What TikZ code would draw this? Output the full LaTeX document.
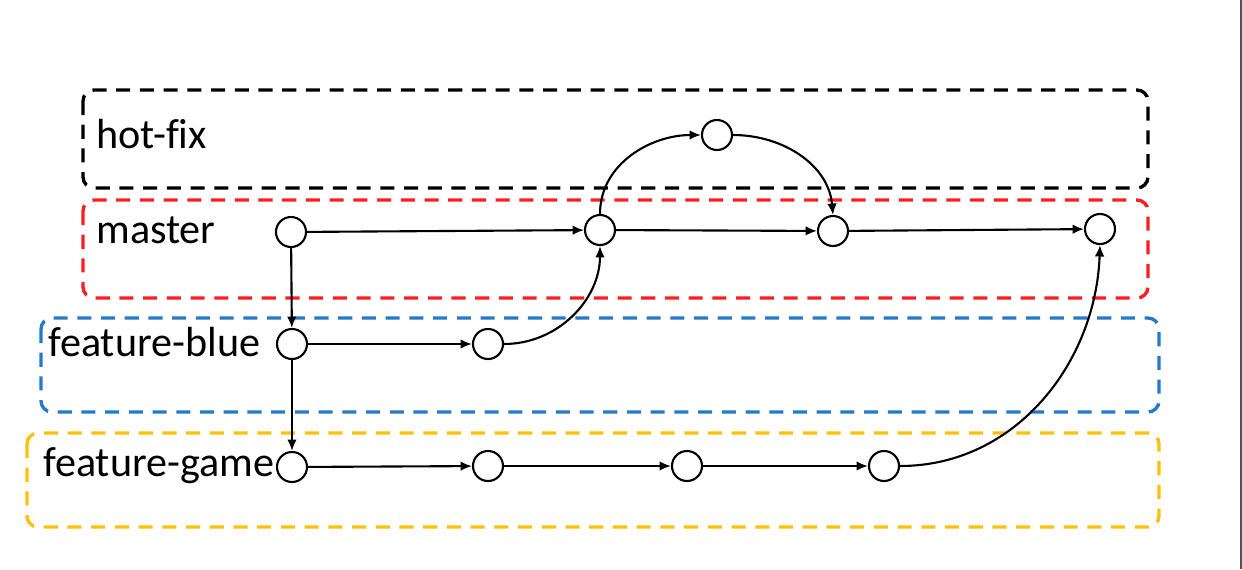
\documentclass[tikz,border=0pt]{standalone}
\usepackage{fontspec}
\setmainfont{Carlito}[Ligatures=NoCommon]
\usepackage{tikz}
\usetikzlibrary{arrows.meta}
\definecolor{boxred}{RGB}{250,30,30}
\definecolor{boxblue}{RGB}{35,122,200}
\definecolor{boxyellow}{RGB}{255,192,10}
\definecolor{edgegray}{RGB}{75,82,92}

\begin{document}
\begin{tikzpicture}[x=0.02cm,y=-0.02cm,
  commit/.style={draw=black,line width=1.2pt,circle,minimum size=0.6cm,inner sep=0pt,fill=white},
  branch/.style={dash pattern=on 8pt off 5.5pt,line width=1.9pt,rounded corners=0.22cm},
  lbl/.style={anchor=mid west,inner sep=0pt,font=\fontsize{24}{29}\selectfont},
  arr/.style={-{Latex[length=6.5pt,width=5.5pt]},line width=1.2pt}]
\useasboundingbox (0,0) rectangle (1242,569);
\fill[edgegray] (1240,0) rectangle (1242,569);

\draw[branch,black] (83,90) rectangle (1148,188);
\draw[branch,boxred] (83,200) rectangle (1148,298);
\draw[branch,boxblue] (41,318) rectangle (1159,412);
\draw[branch,boxyellow] (27,433) rectangle (1159,527);

\node[lbl] (lh) at (96,144) {hot-fix};
\node[lbl] (lm) at (96,239) {master};
\node[lbl] (lb) at (48,352) {feature-blue};
\node[lbl] (lg) at (43,472) {feature-game};

\node[commit] (h1) at (717,135) {};
\node[commit] (m1) at (291,232) {};
\node[commit] (m2) at (600,230) {};
\node[commit] (m3) at (833,231) {};
\node[commit] (m4) at (1100,229) {};
\node[commit] (b1) at (292,344) {};
\node[commit] (b2) at (488,344) {};
\node[commit] (g1) at (292,467) {};
\node[commit] (g2) at (488,466) {};
\node[commit] (g3) at (687,466) {};
\node[commit] (g4) at (884,466) {};

\draw[arr] (m1) -- (m2);
\draw[arr] (m2) -- (m3);
\draw[arr] (m3) -- (m4);
\draw[arr] (m1) -- (b1);
\draw[arr] (b1) -- (g1);
\draw[arr] (b1) -- (b2);
\draw[arr] (g1) -- (g2);
\draw[arr] (g2) -- (g3);
\draw[arr] (g3) -- (g4);

\draw[arr] (m2.north) to[out=90,in=180] (h1.west);
\draw[arr] (h1.east) to[out=0,in=95] (m3.north);
\draw[arr] (b2.east) to[out=0,in=-90] (m2.south);
\draw[arr] (g4.east) to[out=0,in=-92] (m4.south);
\end{tikzpicture}
\end{document}
